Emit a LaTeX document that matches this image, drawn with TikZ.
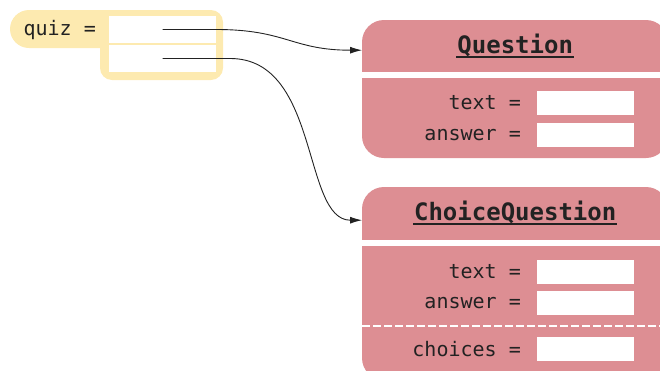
\documentclass[tikz,border=0pt]{standalone}
\usepackage{fontspec}
\setmonofont{DejaVu Sans Mono}
\usetikzlibrary{arrows.meta}
\definecolor{varyellow}{RGB}{253,234,176}
\definecolor{objpink}{RGB}{221,142,147}
\definecolor{inkgray}{RGB}{34,34,34}
\newcommand\ulname[1]{\setbox0\hbox{#1}\rlap{\kern-1pt\rule[-5pt]{\dimexpr\wd0+2pt}{2pt}}\box0}
\begin{document}
\begin{tikzpicture}[x=1pt, y=-1pt,
  field/.style={fill=white, minimum width=97pt, minimum height=24pt, inner sep=0pt},
  slot/.style={fill=white, minimum width=107pt, minimum height=27pt, inner sep=0pt},
  fieldlbl/.style={anchor=east, inner sep=0pt, text=inkgray, font=\ttfamily\fontsize{20}{22}\selectfont},
  classhead/.style={anchor=north west, minimum width=306pt, minimum height=52pt, inner sep=0pt,
    text=inkgray, font=\ttfamily\bfseries\fontsize{24}{26}\selectfont},
  refarrow/.style={-{Latex[length=12pt,width=7pt]}, inkgray, line width=0.9pt}]
\useasboundingbox (0,0) rectangle (660,370);
\clip (0,0) rectangle (660,370);

% the variable quiz
\fill[varyellow, rounded corners=19pt] (10,10) rectangle (130,48);
\fill[varyellow, rounded corners=12pt] (100,10) rectangle (223,80);
\node[fieldlbl] (quizlbl) at (96,30) {quiz =};
\node[slot] (slot1) at (162.5,29.5) {};
\node[slot] (slot2) at (162.5,58.5) {};

% Question object
\fill[objpink, rounded corners=22pt] (362,20) rectangle (668,158);
\fill[white] (362,72) rectangle (668,78);
\node[classhead] (qhead) at (362,20) {\ulname{Question}};
\node[field] (qtext) at (585.5,103) {};
\node[field] (qanswer) at (585.5,135) {};
\node[fieldlbl] (qtextlbl) at (521,103) {text =};
\node[fieldlbl] (qanswerlbl) at (521,135) {answer =};

% ChoiceQuestion object
\fill[objpink, rounded corners=22pt] (362,187) rectangle (668,380);
\fill[white] (362,240) rectangle (668,246);
\draw[white, line width=2pt, dash pattern=on 8pt off 3pt] (362,326) -- (668,326);
\node[classhead] (chead) at (362,187) {\ulname{ChoiceQuestion}};
\node[field] (ctext) at (585.5,271.5) {};
\node[field] (canswer) at (585.5,303) {};
\node[field] (cchoices) at (585.5,349) {};
\node[fieldlbl] (ctextlbl) at (521,271.5) {text =};
\node[fieldlbl] (canswerlbl) at (521,303) {answer =};
\node[fieldlbl] (cchoiceslbl) at (521,349) {choices =};

% references
\draw[refarrow] (slot1.center) -- (slot1.east) .. controls +(70,0) and +(-70,0) .. ([yshift=-4pt]qhead.west);
\draw[refarrow] (slot2.center) -- ([xshift=14pt]slot2.east) .. controls +(90,0) and +(-60,0) .. ([yshift=-7pt]chead.west);
\end{tikzpicture}
\end{document}
